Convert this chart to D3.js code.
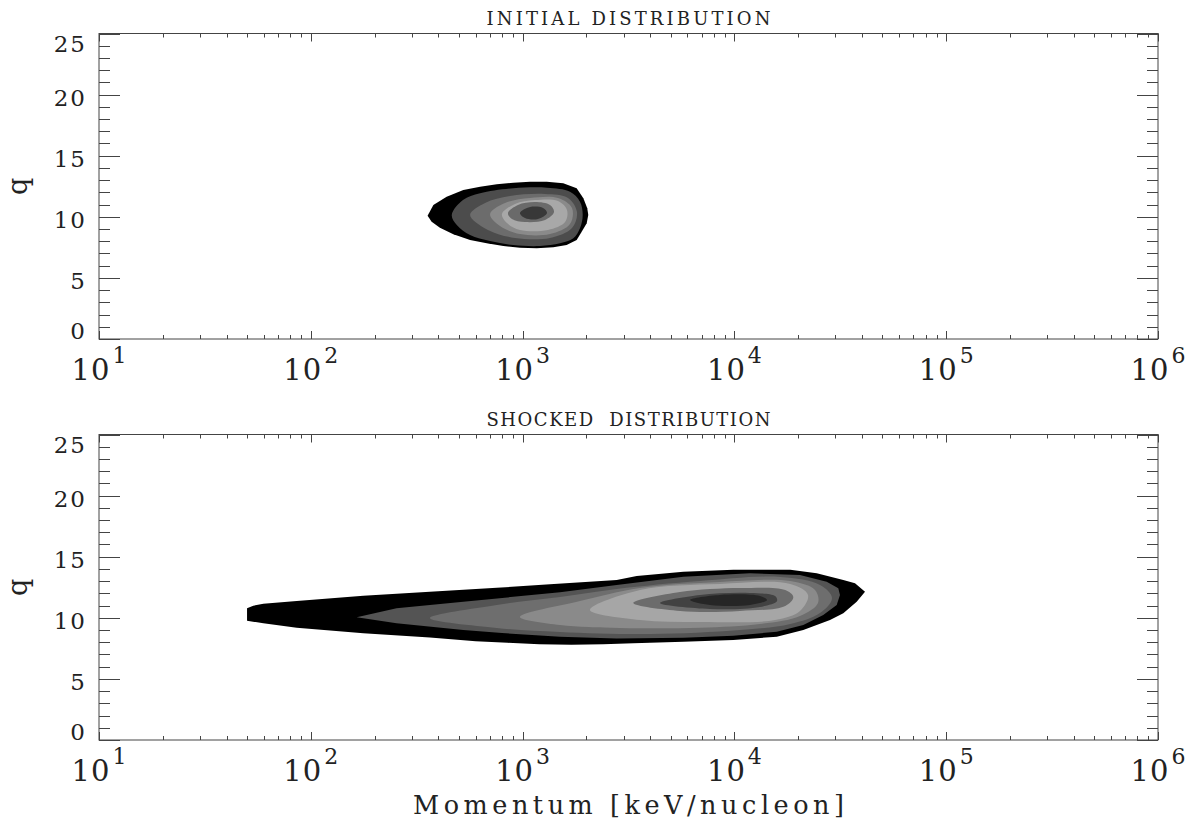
<!DOCTYPE html>
<html><head><meta charset="utf-8">
<script src="https://cdn.jsdelivr.net/npm/d3@7"></script>
<style>html,body{margin:0;padding:0;background:#fff;} svg{display:block;}</style>
</head><body><svg id="c" width="1195" height="824"></svg>
<script>
// ---------------- DATA ----------------
const xDomain = [10, 1e6];               // momentum [keV/nucleon]
const yDomain = [0, 25];                 // q
const xTickExponents = [1, 2, 3, 4, 5, 6];
const yTickLabels = [0, 5, 10, 15, 20, 25];
const panelTitles = ["INITIAL DISTRIBUTION", "SHOCKED  DISTRIBUTION"];
const xAxisLabel = "Momentum [keV/nucleon]";
const yAxisLabel = "q";

// contour level polygons [p, q], outermost level first
const initialLevel1 = [[356,10.09],[379,10.97],[438,11.64],[525,12.19],[630,12.46],[755,12.66],[904,12.79],[1084,12.87],[1300,12.87],[1556,12.74],[1800,12.33],[1936,11.51],[2020,10.70],[2042,10.15],[2008,9.47],[1901,8.78],[1800,8.10],[1614,7.69],[1397,7.50],[1166,7.42],[972,7.47],[811,7.61],[677,7.83],[565,8.10],[471,8.57],[407,9.11],[372,9.60]];
const initialLevel2 = [[463,10.15],[523,11.37],[630,11.92],[904,12.33],[1304,12.38],[1674,12.05],[1866,11.24],[1922,10.15],[1866,9.06],[1736,8.24],[1502,7.83],[1208,7.61],[904,7.69],[702,8.02],[565,8.51],[489,9.33]];
const initialLevel3 = [[565,10.15],[665,11.13],[872,11.70],[1276,11.87],[1638,11.54],[1806,10.39],[1711,9.08],[1347,8.27],[921,8.27],[686,8.92]];
const initialLevel4 = [[702,10.23],[826,11.13],[1084,11.54],[1469,11.54],[1711,10.72],[1674,9.41],[1347,8.59],[972,8.59],[782,9.25]];
const initialLevel5 = [[799,10.23],[921,11.05],[1145,11.37],[1469,11.29],[1620,10.56],[1586,9.57],[1318,8.92],[972,8.92],[844,9.49]];
const initialLevel6 = [[853,10.31],[951,10.97],[1145,11.21],[1347,10.97],[1407,10.39],[1276,9.74],[1026,9.57],[891,9.82]];
const initialLevel7 = [[972,10.31],[1084,10.80],[1249,10.72],[1304,10.31],[1182,9.82],[1026,9.90]];

const shockedLevel1 = [[50,10.78],[53.5,10.99],[59.7,11.15],[85.8,11.37],[177,11.81],[365,12.14],[755,12.46],[1347,12.74],[2782,13.09],[3457,13.42],[5739,13.77],[9880,13.94],[18360,13.94],[24470,13.64],[32670,13.09],[37100,12.82],[41370,12.14],[37790,11.32],[32670,10.37],[28280,9.82],[21150,9.00],[15850,8.45],[9880,8.18],[5739,8.04],[3332,7.91],[2400,7.84],[1700,7.80],[1200,7.84],[850,7.95],[600,8.08],[365,8.38],[177,8.73],[85.8,9.19],[59.7,9.55],[50,9.76]];
const shockedLevel2 = [[164.7,10.04],[254,10.78],[525,11.32],[1502,12.09],[2782,12.68],[5739,13.36],[11846,13.64],[20400,13.50],[27270,12.95],[30940,12.41],[31510,11.87],[30410,11.05],[26280,10.23],[21150,9.41],[15850,8.86],[9880,8.54],[5739,8.37],[2782,8.30],[1502,8.45],[800,8.75],[525,9.00],[254,9.55]];
const shockedLevel3 = [[365,9.98],[755,11.05],[1502,11.70],[2782,12.36],[6880,13.01],[16470,13.34],[25360,12.68],[28900,11.62],[25360,10.39],[18360,9.49],[10627,9.00],[3995,8.67],[1502,8.84],[755,9.17]];
const shockedLevel4 = [[972,10.07],[1866,11.37],[3584,12.44],[8551,12.93],[18360,13.01],[24020,12.27],[24810,11.21],[20400,10.15],[13209,9.49],[6880,9.19],[2884,9.17],[1502,9.41]];
const shockedLevel5 = [[2081,10.64],[3584,12.27],[8551,12.77],[18360,12.77],[22260,11.87],[20400,10.56],[15550,9.82],[6880,9.66],[3584,9.82]];
const shockedLevel6 = [[3332,11.21],[5537,12.11],[10627,12.44],[17390,12.27],[18970,11.70],[17390,10.97],[10627,10.56],[5537,10.56]];
const shockedLevel7 = [[4453,11.21],[6880,11.87],[11846,12.03],[15550,11.78],[15893,11.37],[13209,10.88],[7669,10.72]];
const shockedLevel8 = [[6172,11.46],[8551,11.87],[13209,11.78],[14256,11.46],[11846,11.05],[7669,11.05]];

const initialLevels = [initialLevel1, initialLevel2, initialLevel3, initialLevel4, initialLevel5, initialLevel6, initialLevel7];
const shockedLevels = [shockedLevel1, shockedLevel2, shockedLevel3, shockedLevel4, shockedLevel5, shockedLevel6, shockedLevel7, shockedLevel8];

// ---------------- STYLE ----------------
const initialFills = ["#000", "#4c4c4c", "#6c6c6c", "#8a8a8a", "#a8a8a8", "#6a6a6a", "#383838"];
const shockedFills = ["#000", "#545454", "#6e6e6e", "#8a8a8a", "#a6a6a6", "#6c6c6c", "#424242", "#262626"];
const FONT = "'DejaVu Serif', 'Liberation Serif', serif";
const axisColor = "#444";
const textColor = "#222";

const svg = d3.select("#c");
const plotLeft = 99, plotRight = 1158;
const x = d3.scaleLog().domain(xDomain).range([plotLeft, plotRight]);

const panels = [
  {top: 33.5, bottom: 339, title: panelTitles[0], levels: initialLevels, fills: initialFills},
  {top: 434.5, bottom: 740, title: panelTitles[1], levels: shockedLevels, fills: shockedFills}
];

panels.forEach((pn, pi) => {
  const y = d3.scaleLinear().domain(yDomain).range([pn.bottom, pn.top]);
  const g = svg.append("g");

  // contours
  pn.levels.forEach((pts, li) => {
    const sharp = (li === 0 && pi === 0) || (pi === 1 && li <= 1);
    const curve = sharp ? d3.curveLinearClosed : d3.curveCatmullRomClosed.alpha(0.5);
    const line = d3.line().x(d => x(d[0])).y(d => y(d[1])).curve(curve);
    g.append("path").attr("d", line(pts)).attr("fill", pn.fills[li]).attr("stroke", "none");
  });

  // frame
  g.append("rect").attr("x", plotLeft).attr("y", pn.top)
    .attr("width", plotRight - plotLeft).attr("height", pn.bottom - pn.top)
    .attr("fill", "none").attr("stroke", axisColor).attr("stroke-width", 1);

  // y ticks
  const yTicks = d3.range(yDomain[0], yDomain[1] + 1, 1);
  yTicks.forEach(v => {
    const len = (v % 5 === 0) ? 21 : 11;
    const yy = Math.round(y(v)) + 0.5;
    g.append("line").attr("x1", plotLeft).attr("x2", plotLeft + len).attr("y1", yy).attr("y2", yy)
      .attr("stroke", axisColor).attr("stroke-width", 1);
    g.append("line").attr("x1", plotRight).attr("x2", plotRight - len).attr("y1", yy).attr("y2", yy)
      .attr("stroke", axisColor).attr("stroke-width", 1);
  });
  yTickLabels.forEach(v => {
    const cy = Math.max(pn.top + 10, Math.min(pn.bottom - 8, y(v) + 3));
    g.append("text").attr("x", plotLeft - 12).attr("y", cy)
      .attr("text-anchor", "end").attr("dominant-baseline", "central")
      .attr("font-family", FONT).attr("font-size", 23).attr("letter-spacing", 2).attr("fill", textColor)
      .text(v);
  });

  // x ticks
  const xMinor = [];
  for (let e = xTickExponents[0]; e < xTickExponents[xTickExponents.length - 1]; e++)
    for (let m = 2; m <= 9; m++) xMinor.push(m * Math.pow(10, e));
  xMinor.forEach(v => {
    const xx = Math.round(x(v)) + 0.5;
    g.append("line").attr("x1", xx).attr("x2", xx).attr("y1", pn.bottom).attr("y2", pn.bottom - 4).attr("stroke", axisColor);
    g.append("line").attr("x1", xx).attr("x2", xx).attr("y1", pn.top).attr("y2", pn.top + 4).attr("stroke", axisColor);
  });
  xTickExponents.forEach(e => {
    const xx = Math.round(x(Math.pow(10, e))) + 0.5;
    g.append("line").attr("x1", xx).attr("x2", xx).attr("y1", pn.bottom).attr("y2", pn.bottom - 8).attr("stroke", axisColor);
    g.append("line").attr("x1", xx).attr("x2", xx).attr("y1", pn.top).attr("y2", pn.top + 8).attr("stroke", axisColor);
    const t = g.append("text").attr("x", x(Math.pow(10, e))).attr("y", pn.bottom + 41)
      .attr("text-anchor", "middle").attr("font-family", FONT).attr("font-size", 29).attr("fill", textColor);
    t.append("tspan").text("10").attr("letter-spacing", 1);
    t.append("tspan").attr("dy", -17).attr("dx", 2).attr("font-size", 22).text(e);
  });

  // title
  g.append("text").attr("x", (plotLeft + plotRight) / 2).attr("y", pn.top - 9)
    .attr("text-anchor", "middle").attr("font-family", FONT).attr("font-size", 18).attr("fill", textColor)
    .attr("textLength", 284).attr("lengthAdjust", "spacing").attr("xml:space", "preserve")
    .style("white-space", "pre")
    .text(pn.title);

  // y label
  g.append("text").attr("transform", `translate(27,${(pn.top + pn.bottom) / 2}) rotate(-90)`)
    .attr("text-anchor", "middle").attr("font-family", FONT).attr("font-size", 27).attr("fill", textColor)
    .text(yAxisLabel);
});

// x axis label
svg.append("text").attr("x", (plotLeft + plotRight) / 2).attr("y", 814)
  .attr("text-anchor", "middle").attr("font-family", FONT).attr("font-size", 25.5).attr("fill", textColor)
  .attr("textLength", 431).attr("lengthAdjust", "spacing")
  .text(xAxisLabel);
</script></body></html>
